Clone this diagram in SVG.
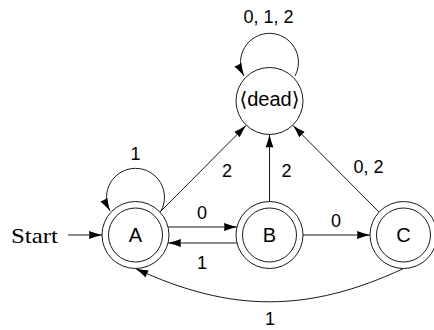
<svg xmlns="http://www.w3.org/2000/svg" width="434" height="330" viewBox="0 0 434 330">
<style>
  .ring { fill: #fff; stroke: #000; stroke-width: 0.9; }
  .edge { fill: none; stroke: #000; stroke-width: 0.9; marker-end: url(#arr); }
  .node { font-family: "Liberation Sans", "DejaVu Sans", sans-serif; font-size: 20px; text-anchor: middle; fill: #000; }
  .lbl { font-family: "Liberation Sans", "DejaVu Sans", sans-serif; font-size: 18px; text-anchor: middle; fill: #000; }
  .serif { font-family: "Liberation Serif", "DejaVu Serif", serif; font-size: 21px; fill: #000; }
</style>
<defs>
  <marker id="arr" viewBox="0 0 13 8.4" refX="13" refY="4.2" markerWidth="13" markerHeight="8.4" orient="auto" markerUnits="userSpaceOnUse">
    <path d="M0,0.3 Q6.5,2.8 13,4.2 Q6.5,5.6 0,8.1 Q1,4.2 0,0.3 Z" fill="#000"/>
  </marker>
</defs>
<rect width="434" height="330" fill="#fff"/>
<g id="connectors">
  <line class="edge" x1="68" y1="235" x2="102" y2="235"/>
  <path class="edge" d="M161,211 A28.95,28.95 0 1 0 110,211"/>
  <path class="edge" d="M295,76 A28.95,28.95 0 1 0 244,76"/>
  <line class="edge" x1="168" y1="227" x2="237" y2="227"/>
  <line class="edge" x1="237" y1="243" x2="168" y2="243"/>
  <line class="edge" x1="303" y1="235" x2="370" y2="235"/>
  <line class="edge" x1="269.5" y1="201.5" x2="269.5" y2="134.5"/>
  <line class="edge" x1="160" y1="212" x2="246" y2="125.5"/>
  <line class="edge" x1="379" y1="212" x2="293" y2="125.5"/>
  <path class="edge" d="M403.5,268.5 C308.4,312.9 230.6,312.9 135.5,268.5"/>
  <text class="lbl" x="135.5" y="160">1</text>
  <text class="lbl" x="268.5" y="23">0, 1, 2</text>
  <text class="lbl" x="227" y="177">2</text>
  <text class="lbl" x="286.5" y="177">2</text>
  <text class="lbl" x="368.5" y="173">0, 2</text>
  <text class="lbl" x="202" y="218.5">0</text>
  <text class="lbl" x="202" y="268.5">1</text>
  <text class="lbl" x="336" y="227">0</text>
  <text class="lbl" x="270" y="325">1</text>
</g>
<g id="start">
  <text class="serif" x="11" y="242.5" textLength="47" lengthAdjust="spacingAndGlyphs">Start</text>
</g>
<g id="node-dead">
  <circle class="ring" cx="269.5" cy="101" r="33.5"/>
  <text class="node" x="269.5" y="105.5">⟨dead⟩</text>
</g>
<g id="node-A">
  <circle class="ring" cx="135.5" cy="235" r="33.5"/>
  <circle class="ring" cx="135.5" cy="235" r="27"/>
  <text class="node" x="135.5" y="242.2">A</text>
</g>
<g id="node-B">
  <circle class="ring" cx="269.5" cy="235" r="33.5"/>
  <circle class="ring" cx="269.5" cy="235" r="27"/>
  <text class="node" x="269.5" y="242.2">B</text>
</g>
<g id="node-C">
  <circle class="ring" cx="403.5" cy="235" r="33.5"/>
  <circle class="ring" cx="403.5" cy="235" r="27"/>
  <text class="node" x="403.5" y="242.2">C</text>
</g>
</svg>
